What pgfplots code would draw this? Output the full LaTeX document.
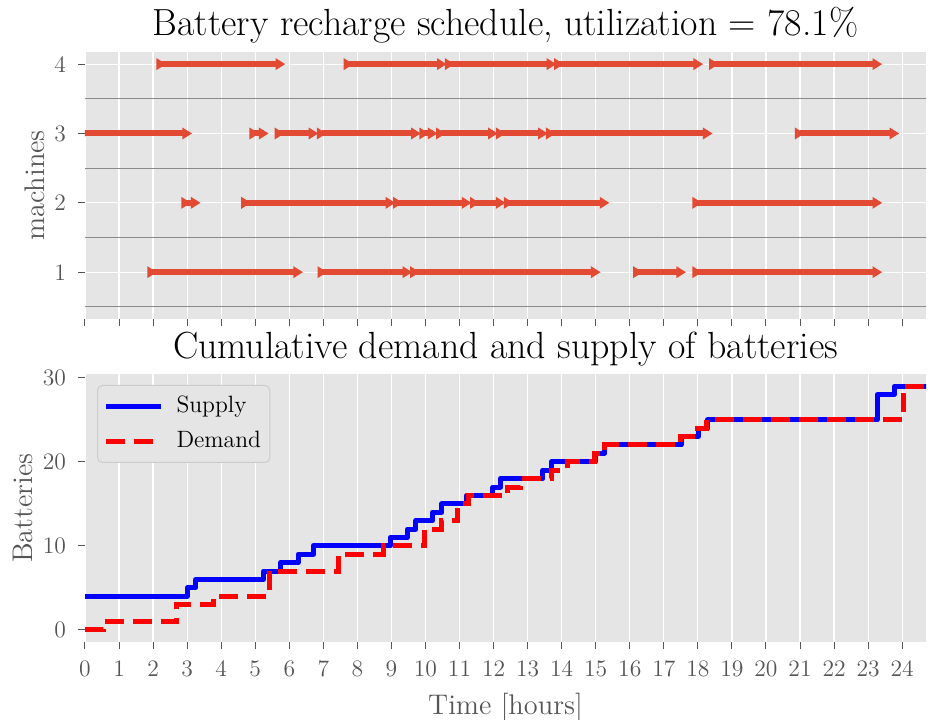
\documentclass[border=0pt]{standalone}
\usepackage{fontspec}
\usepackage{pgfplots}
\pgfplotsset{compat=1.18}
\definecolor{bg}{HTML}{E5E5E5}
\definecolor{tickgray}{HTML}{555555}
\definecolor{arrowred}{HTML}{E24A33}
\definecolor{sepgray}{HTML}{8A8A8A}
\definecolor{legedge}{HTML}{CCCCCC}

\pgfdeclareplotmark{rtri}{%
  \pgfpathmoveto{\pgfqpoint{-2.4pt}{3pt}}%
  \pgfpathlineto{\pgfqpoint{2.4pt}{0pt}}%
  \pgfpathlineto{\pgfqpoint{-2.4pt}{-3pt}}%
  \pgfpathclose
  \pgfusepathqfill}

\pgfplotsset{
  ggbase/.style={
    scale only axis, width=420.5pt,
    xmin=0, xmax=24.7,
    axis background/.style={fill=bg},
    axis x line*=bottom, axis y line*=left,
    axis line style={draw=none},
    tick align=outside, major tick length=3.5pt,
    tick style={color=tickgray, line width=0.5pt},
    major grid style={white, line width=0.6pt},
    xtick={0,1,...,24},
    tick label style={font=\fontsize{11.8}{14}\selectfont, text=tickgray},
    /pgf/number format/assume math mode=true,
    xticklabel style={yshift=-2.4pt},
    yticklabel style={xshift=-2.5pt},
    title style={at={(0.5,1)}, anchor=base, yshift=2pt, font=\fontsize{18.9}{22}\selectfont},
    label style={font=\fontsize{14.2}{17}\selectfont, text=tickgray},
  }
}

\begin{document}
\begin{tikzpicture}
\path[use as bounding box] (-42.5pt,-38.5pt) rectangle (421.5pt,321pt);

% ---------- top: schedule ----------
\begin{axis}[ggbase, at={(0,161.5pt)}, height=133.5pt,
  ymin=0.325, ymax=4.175, ytick={1,2,3,4},
  xticklabels={},
  xmajorgrids, ymajorgrids,
  title={Battery recharge schedule, utilization = 78.1\%},
  ylabel={machines},
  ylabel style={at={(axis description cs:-0.0476,0.5)}, anchor=base},
  unbounded coords=jump, clip marker paths=true]
\addplot[sepgray, line width=0.6pt, forget plot] coordinates {(0,0.5) (25,0.5)};
\addplot[sepgray, line width=0.6pt, forget plot] coordinates {(0,1.5) (25,1.5)};
\addplot[sepgray, line width=0.6pt, forget plot] coordinates {(0,2.5) (25,2.5)};
\addplot[sepgray, line width=0.6pt, forget plot] coordinates {(0,3.5) (25,3.5)};
% machine 4
\addplot[arrowred, line width=3pt, mark=rtri, forget plot] coordinates {
 (2.24,4) (5.74,4) (6,nan)
 (7.74,4) (10.48,4) (10.6,nan)
 (10.71,4) (13.70,4) (13.8,nan)
 (13.92,4) (18.01,4) (18.2,nan)
 (18.47,4) (23.27,4)};
% machine 3
\addplot[arrowred, line width=3pt, mark=rtri, forget plot] coordinates {
 (0,3) (3.00,3) (4,nan)
 (4.97,3) (5.25,3) (5.5,nan)
 (5.71,3) (6.71,3) (6.8,nan)
 (6.95,3) (9.72,3) (9.8,nan)
 (9.96,3) (10.21,3) (10.3,nan)
 (10.45,3) (11.98,3) (12.1,nan)
 (12.21,3) (13.45,3) (13.5,nan)
 (13.68,3) (18.29,3) (19,nan)
 (20.99,3) (23.77,3)};
% machine 2
\addplot[arrowred, line width=3pt, mark=rtri, forget plot] coordinates {
 (2.97,2) (3.25,2) (4,nan)
 (4.73,2) (8.97,2) (9.1,nan)
 (9.19,2) (11.21,2) (11.3,nan)
 (11.45,2) (12.21,2) (12.3,nan)
 (12.44,2) (15.26,2) (16,nan)
 (17.98,2) (23.27,2)};
% machine 1
\addplot[arrowred, line width=3pt, mark=rtri, forget plot] coordinates {
 (1.97,1) (6.26,1) (6.5,nan)
 (6.97,1) (9.47,1) (9.6,nan)
 (9.69,1) (15.00,1) (15.5,nan)
 (16.24,1) (17.51,1) (17.7,nan)
 (17.98,1) (23.27,1)};
\end{axis}

% ---------- bottom: cumulative ----------
\begin{axis}[ggbase, at={(0,0)}, height=134pt,
  ymin=-1.45, ymax=30.45, ytick={0,10,20,30},
  xmajorgrids,
  title={Cumulative demand and supply of batteries},
  xlabel={Time [hours]}, ylabel={Batteries},
  xlabel style={at={(axis description cs:0.5,-0.2687)}, anchor=base},
  ylabel style={at={(axis description cs:-0.063,0.5)}, anchor=base},
  legend image code/.code={\draw[#1] (0pt,0pt) -- (27.5pt,0pt);},
  legend cell align=left,
  legend style={at={(0.0143,0.959)}, anchor=north west, draw=legedge, fill=bg,
    rounded corners=2.5pt, line width=0.5pt,
    font=\fontsize{11.8}{14}\selectfont,
    inner xsep=3pt, inner ysep=3.5pt, row sep=3.5pt,
    nodes={inner sep=1.5pt, text height=8.4pt, text depth=2.6pt},
    /tikz/every odd column/.append style={column sep=5pt}}]
\addplot[blue, line width=2.5pt, const plot, line join=round] coordinates {
 (0,4) (3.00,5) (3.25,6) (5.25,7) (5.74,8) (6.26,9) (6.71,10)
 (8.97,11) (9.47,12) (9.72,13) (10.21,14) (10.48,15) (11.21,16)
 (11.98,17) (12.21,18) (13.45,19) (13.70,20) (15.00,21) (15.26,22)
 (17.51,23) (18.01,24) (18.29,25) (23.27,28) (23.77,29) (25,29)};
\addlegendentry{Supply}
\addplot[red, line width=2.5pt, const plot, dash pattern=on 9.5pt off 4.5pt] coordinates {
 (0,0) (0.54,1) (2.69,3) (3.77,4) (5.42,7) (7.45,9) (8.77,10)
 (9.97,12) (10.47,13) (10.95,15) (11.27,16) (12.42,17) (12.78,18)
 (13.70,19) (14.17,20) (14.95,21) (15.27,22) (17.50,23) (18.00,24)
 (18.25,25) (24.03,29) (25,29)};
\addlegendentry{Demand}
\end{axis}
\end{tikzpicture}
\end{document}
